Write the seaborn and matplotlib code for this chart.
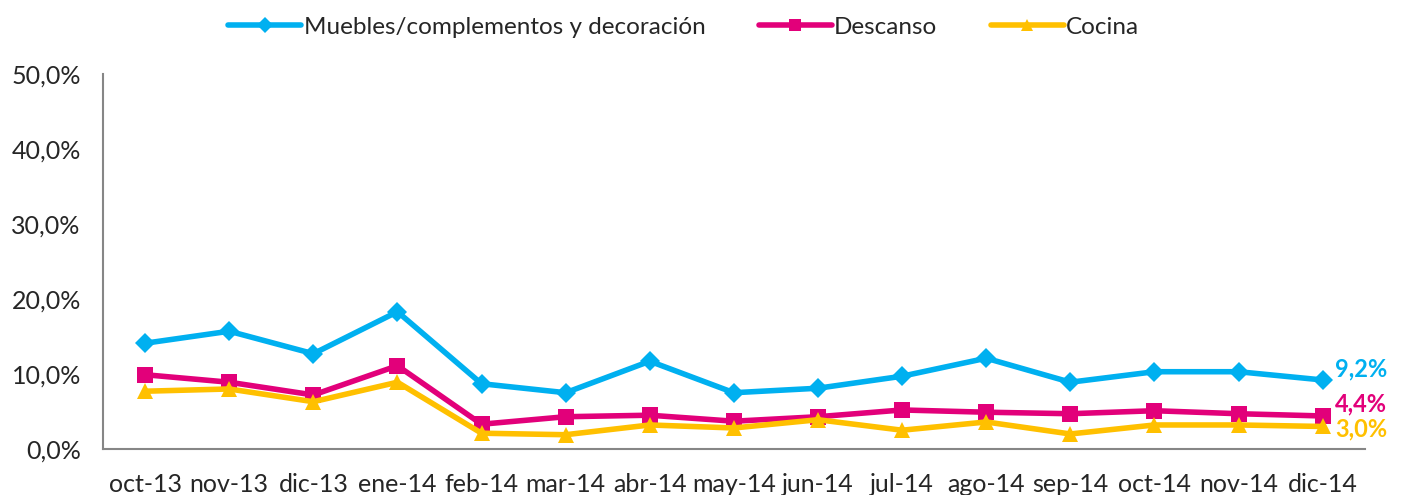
import numpy as np
import pandas as pd
import seaborn as sns
import matplotlib.pyplot as plt
from matplotlib.ticker import FuncFormatter, FixedLocator

# --- data ---
months = ["oct-13", "nov-13", "dic-13", "ene-14", "feb-14", "mar-14", "abr-14", "may-14",
          "jun-14", "jul-14", "ago-14", "sep-14", "oct-14", "nov-14", "dic-14"]
muebles = [14.1, 15.7, 12.7, 18.3, 8.7, 7.5, 11.7, 7.5, 8.1, 9.7, 12.1, 8.9, 10.3, 10.3, 9.2]
descanso = [9.9, 8.9, 7.2, 11.1, 3.3, 4.3, 4.5, 3.7, 4.3, 5.2, 4.9, 4.7, 5.1, 4.7, 4.4]
cocina = [7.7, 8.0, 6.3, 8.9, 2.1, 1.9, 3.2, 2.8, 3.9, 2.5, 3.6, 2.0, 3.2, 3.2, 3.0]

series = ["Muebles/complementos y decoración", "Descanso", "Cocina"]
colors = ["#00B0F0", "#E2007A", "#FFC000"]
markers = ["D", "s", "^"]
msizes = [10, 11.5, 11.5]

df = pd.DataFrame({"mes": months, series[0]: muebles, series[1]: descanso, series[2]: cocina})
df["pos"] = np.arange(len(months))

sns.set_style("white")
plt.rcParams["font.family"] = ["Lato", "DejaVu Sans"]

fig = plt.figure(figsize=(14.04, 4.95), dpi=100)
ax = fig.add_axes([0.0734, 0.093, 0.8986, 0.7575])

for name, c, m, ms in zip(series, colors, markers, msizes):
    sns.lineplot(data=df, x="pos", y=name, ax=ax, color=c, marker=m, markersize=ms,
                 markeredgewidth=0, linewidth=4, label=name)

# end-of-series value labels
for name, c, dy in zip(series, colors, [8, 8.5, -1.5]):
    v = df[name].iloc[-1]
    ax.annotate(f"{v:.1f}%".replace(".", ","), (df["pos"].iloc[-1], v),
                xytext=(9, dy), textcoords="offset points", va="center", ha="left",
                color=c, fontsize=17, fontweight="bold", annotation_clip=False)

ax.set_xlim(-0.5, len(months) - 0.5)
ax.set_ylim(0, 50)
ax.set_yticks(np.arange(0, 51, 10))
ax.yaxis.set_major_formatter(FuncFormatter(lambda v, p: f"{v:.1f}%".replace(".", ",")))
ax.set_xticks(df["pos"])
ax.set_xticklabels(months)
ax.xaxis.set_minor_locator(FixedLocator(np.arange(-0.5, len(months), 1)))
ax.tick_params(axis="x", which="major", length=0, labelsize=18, pad=17)
ax.tick_params(axis="x", which="minor", length=6, width=1.5, color="#868686", direction="out")
ax.tick_params(axis="y", length=6, width=1.5, color="#868686", direction="out", labelsize=18, pad=10)
ax.set_xlabel("")
ax.set_ylabel("")

for s in ["top", "right"]:
    ax.spines[s].set_visible(False)
for s in ["left", "bottom"]:
    ax.spines[s].set_color("#868686")
    ax.spines[s].set_linewidth(1.5)

handles, labels = ax.get_legend_handles_labels()
ax.get_legend().remove()
fig.legend(handles, labels, loc="center", bbox_to_anchor=(0.487, 1 - 27 / 495), ncol=3,
           frameon=False, fontsize=17.5, handlelength=3, handletextpad=0.1, columnspacing=2.2,
           markerscale=0.8)

fig.savefig("out.png", dpi=100)
